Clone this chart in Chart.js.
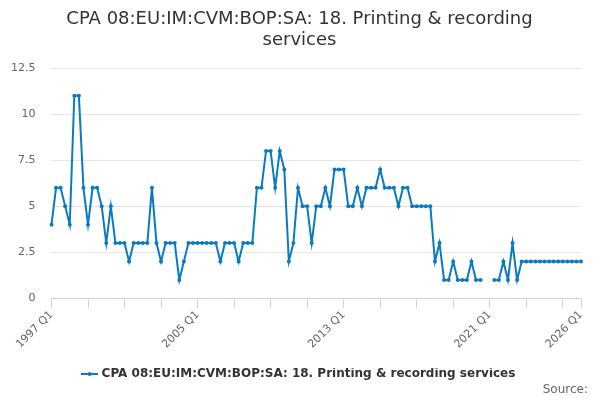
<!DOCTYPE html>
<html>
<head>
<meta charset="utf-8">
<script src="https://cdn.jsdelivr.net/npm/chart.js@4.4.1/dist/chart.umd.min.js"></script>
<style>
  html, body { margin: 0; padding: 0; background: #fff; }
  #wrap { width: 600px; height: 400px; }
</style>
</head>
<body>
<div id="wrap"><canvas id="chart"></canvas></div>
<script>
// quarters 1997 Q1 .. 2026 Q1
var startYear = 1997;
var endYear = 2026;
var seriesName = 'CPA 08:EU:IM:CVM:BOP:SA: 18. Printing & recording services';
var values = [
	4, 6, 6, 5, 4, 11, 11, 6,
	4, 6, 6, 5, 3, 5, 3, 3,
	3, 2, 3, 3, 3, 3, 6, 3,
	2, 3, 3, 3, 1, 2, 3, 3,
	3, 3, 3, 3, 3, 2, 3, 3,
	3, 2, 3, 3, 3, 6, 6, 8,
	8, 6, 8, 7, 2, 3, 6, 5,
	5, 3, 5, 5, 6, 5, 7, 7,
	7, 5, 5, 6, 5, 6, 6, 6,
	7, 6, 6, 6, 5, 6, 6, 5,
	5, 5, 5, 5, 2, 3, 1, 1,
	2, 1, 1, 1, 2, 1, 1, null,
	null, 1, 1, 2, 1, 3, 1, 2,
	2, 2, 2, 2, 2, 2, 2, 2,
	2, 2, 2, 2, 2
];
var yTicks = [0, 2.5, 5, 7.5, 10, 12.5];

var labels = [];
for (var y = startYear; y <= endYear; y++) {
	for (var q = 1; q <= 4; q++) {
		if (y == endYear && q > 1) break;
		labels.push(y + ' Q' + q);
	}
}

var lineColor = '#0b7bc1';

// legend marker: short line with a dot
var marker = document.createElement('canvas');
marker.width = 17;
marker.height = 6;
var mc = marker.getContext('2d');
mc.strokeStyle = lineColor;
mc.lineWidth = 2;
mc.beginPath();
mc.moveTo(0, 3);
mc.lineTo(17, 3);
mc.stroke();
mc.fillStyle = lineColor;
mc.beginPath();
mc.arc(8.5, 3, 2, 0, Math.PI * 2);
mc.fill();

var last = labels.length - 1;

new Chart(document.getElementById('chart'), {
	type : 'line',
	data : {
		labels : labels,
		datasets : [ {
			label : seriesName,
			data : values,
			borderColor : lineColor,
			backgroundColor : lineColor,
			borderWidth : 2,
			pointRadius : 2,
			pointBorderWidth : 0,
			pointHoverRadius : 2,
			tension : 0,
			spanGaps : false
		} ]
	},
	options : {
		responsive : true,
		maintainAspectRatio : false,
		animation : false,
		layout : {
			padding : { left : 11, right : 12, top : 9, bottom : 4 }
		},
		plugins : {
			title : {
				display : true,
				text : [ 'CPA 08:EU:IM:CVM:BOP:SA: 18. Printing & recording', 'services' ],
				color : '#333333',
				font : { family : 'DejaVu Sans', size : 18, weight : 'normal', lineHeight : 1.17 },
				padding : { top : 0, bottom : 17 }
			},
			subtitle : {
				display : true,
				position : 'bottom',
				align : 'end',
				text : 'Source:',
				color : '#666666',
				font : { family : 'DejaVu Sans', size : 12, lineHeight : 1 },
				padding : { top : -6, bottom : 0 }
			},
			legend : {
				position : 'bottom',
				labels : {
					color : '#333333',
					font : { family : 'DejaVu Sans', size : 12, weight : 'bold' },
					usePointStyle : true,
					pointStyle : marker,
					padding : 0
				}
			},
			tooltip : { enabled : false }
		},
		scales : {
			x : {
				grid : {
					drawOnChartArea : false,
					drawTicks : true,
					tickLength : 10,
					color : '#ccd6eb'
				},
				border : { color : '#ccd6eb', width : 1 },
				ticks : {
					autoSkip : false,
					maxRotation : 45,
					minRotation : 45,
					color : '#666666',
					font : { family : 'DejaVu Sans', size : 11 },
					padding : 0,
					callback : function(value, index) {
						if (index % 32 == 0 || index == last) return labels[index];
						if (index % 8 == 0) return '';
						return null;
					}
				},
				afterFit : function(axis) {
					axis.height += 17;
					axis.paddingLeft = 0;
					axis.paddingRight = 19;
				}
			},
			y : {
				min : 0,
				max : 12.5,
				afterBuildTicks : function(axis) {
					axis.ticks = yTicks.map(function(v) { return { value : v }; });
				},
				afterFit : function(axis) {
					// tick padding is counted twice in the width, take one back
					axis.width -= 16;
				},
				grid : {
					color : '#e6e6e6',
					drawTicks : false
				},
				border : { display : false },
				ticks : {
					color : '#666666',
					font : { family : 'DejaVu Sans', size : 11 },
					padding : 16
				}
			}
		}
	}
});
</script>
</body>
</html>
